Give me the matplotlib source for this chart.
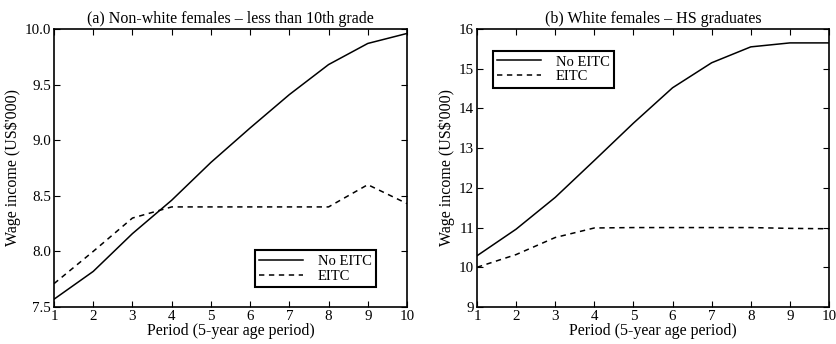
import matplotlib
matplotlib.use("Agg")
import matplotlib.pyplot as plt

# data
periods = [1, 2, 3, 4, 5, 6, 7, 8, 9, 10]

a_no_eitc = [7.57, 7.82, 8.16, 8.46, 8.80, 9.11, 9.41, 9.68, 9.87, 9.96]
a_eitc = [7.71, 8.00, 8.30, 8.40, 8.40, 8.40, 8.40, 8.40, 8.60, 8.43]

b_no_eitc = [10.29, 10.96, 11.76, 12.69, 13.63, 14.52, 15.15, 15.55, 15.65, 15.65]
b_eitc = [10.00, 10.32, 10.75, 10.99, 11.00, 11.00, 11.00, 11.00, 10.98, 10.97]

titles = ["(a) Non-white females \u2013 less than 10th grade",
          "(b) White females \u2013 HS graduates"]

plt.rcParams['font.family'] = ['Liberation Serif', 'DejaVu Serif']
plt.rcParams['font.size'] = 10.5

fig = plt.figure(figsize=(8.37, 3.44), dpi=100)
ax1 = fig.add_axes([54/837, 37/344, 353/837, 278/344])
ax2 = fig.add_axes([477/837, 37/344, 352/837, 278/344])


def draw(ax, no_eitc, eitc, title, ylim, yticks, yfmt, legloc):
    ax.plot(periods, no_eitc, color='black', lw=1.1, label='No EITC')
    ax.plot(periods, eitc, color='black', lw=1.1, ls=(0, (3.5, 3)), label='EITC')
    ax.set_xlim(1, 10)
    ax.set_ylim(*ylim)
    ax.set_xticks(periods)
    ax.set_yticks(yticks)
    ax.set_yticklabels([yfmt % v for v in yticks])
    ax.tick_params(direction='in', top=True, right=True, length=4, labelsize=10.8, pad=2)
    ax.set_xlabel('Period (5-year age period)', fontsize=11.5, labelpad=0)
    ax.set_ylabel("Wage income (US$'000)", fontsize=11.5, labelpad=3)
    ax.set_title(title, fontsize=11.5, pad=4)
    for s in ax.spines.values():
        s.set_linewidth(1.2)
    leg = ax.legend(loc=legloc, fancybox=False, edgecolor='black', framealpha=1,
                    fontsize=10.5, handlelength=3, borderpad=0.3, labelspacing=0.1,
                    handletextpad=1.0, borderaxespad=0)
    leg.get_frame().set_linewidth(1.5)
    return leg


leg1 = draw(ax1, a_no_eitc, a_eitc, titles[0], (7.5, 10.0),
            [7.5, 8.0, 8.5, 9.0, 9.5, 10.0], '%.1f', 'lower right')
leg1.set_bbox_to_anchor((376/837, 57/344), transform=fig.transFigure)
leg1.set_loc('lower right')

leg2 = draw(ax2, b_no_eitc, b_eitc, titles[1], (9, 16),
            [9, 10, 11, 12, 13, 14, 15, 16], '%d', 'upper left')
leg2.set_bbox_to_anchor((493/837, 293/344), transform=fig.transFigure)
leg2.set_loc('upper left')

fig.savefig('out.png', dpi=100)
